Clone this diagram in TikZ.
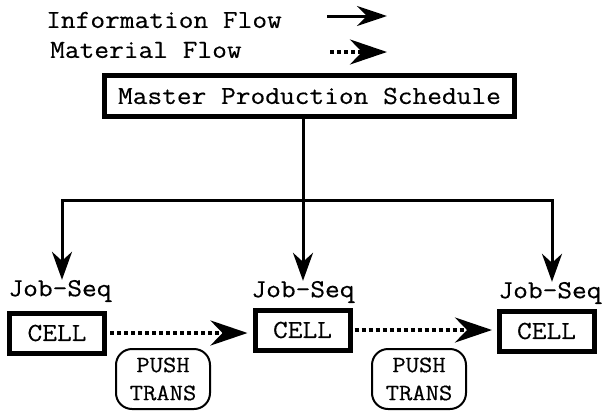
\documentclass[tikz,border=0pt]{standalone}
\usepackage{fontspec}
\newfontfamily\courfont[FakeStretch=1.1,FakeBold=0.4]{Latin Modern Mono}
\usetikzlibrary{arrows.meta}
\begin{document}
\begin{tikzpicture}[x=1pt,y=-1pt,
  every node/.style={font=\courfont\fontsize{26}{28}\selectfont, inner sep=0pt},
  conn/.style={line width=3pt},
  infoarrow/.style={conn,-{Stealth[length=30pt,width=20pt,inset=10pt]}},
  downarrow/.style={conn,-{Stealth[length=28pt,width=20pt,inset=9pt]}},
  matarrow/.style={line width=4pt,dash pattern=on 4pt off 3pt,-{Stealth[length=37pt,width=25pt,inset=12pt]}},
  mpsbox/.style={draw,line width=4.5pt,minimum width=410pt,minimum height=41pt},
  cellbox/.style={draw,line width=5pt,minimum width=95pt,minimum height=40pt},
  pushbox/.style={draw,line width=2pt,rounded corners=16pt,minimum width=94pt,minimum height=60pt,align=center,font=\courfont\fontsize{23.5}{28}\selectfont},
  lbl/.style={}
]
\useasboundingbox (0,0) rectangle (603,413);

% legend
\node[lbl,anchor=west] (info) at (46,20) {Information Flow};
\coordinate (i1) at (327,16);
\coordinate (i2) at (387,16);
\draw[infoarrow] (i1) -- (i2);

\node[lbl,anchor=west] (mat) at (50,50) {Material Flow};
\coordinate (m1) at (330,52);
\coordinate (m2) at (387,52);
\draw[matarrow] (m1) -- (m2);

% master schedule
\node[mpsbox] (mps) at (309.5,96) {Master Production Schedule};

% distribution
\coordinate (j) at (303,200);
\coordinate (jl) at (62,200);
\coordinate (jr) at (552,200);

\node[lbl] (js1) at (60,291) {Job-Seq};
\node[lbl] (js2) at (303,292) {Job-Seq};
\node[lbl] (js3) at (550,293) {Job-Seq};

\draw[conn] (mps.south -| j) -- (j);
\draw[conn,line cap=rect] (jl) -- (jr);
\draw[downarrow] (jl) -- (jl |- js1.north);
\draw[downarrow] (j) -- (j |- js2.north);
\draw[downarrow] (jr) -- (jr |- js3.north);

% cells
\node[cellbox] (c1) at (57,333) {CELL};
\node[cellbox] (c2) at (302.5,330) {CELL};
\node[cellbox] (c3) at (546.5,331) {CELL};

\draw[matarrow,shorten <=3pt,shorten >=5pt] (c1.east) -- (c1.east -| c2.west);
\draw[matarrow,shorten <=2pt,shorten >=4.5pt] (c2.east) -- (c2.east -| c3.west);

% transport
\node[pushbox] (p1) at (163,379) {PUSH\\TRANS};
\node[pushbox] (p2) at (419,379) {PUSH\\TRANS};
\end{tikzpicture}
\end{document}
